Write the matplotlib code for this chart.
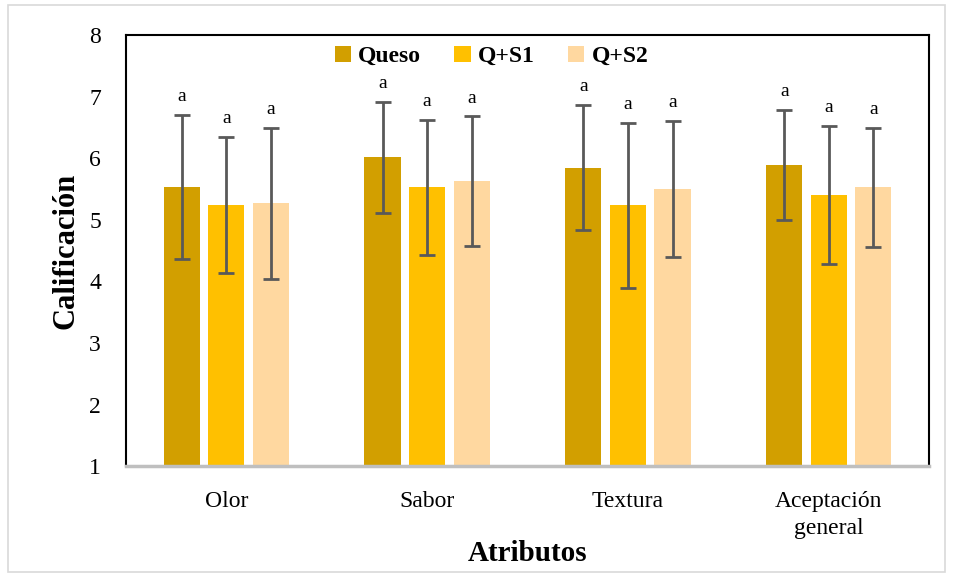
import matplotlib
matplotlib.use("Agg")
import matplotlib.pyplot as plt
import numpy as np
from matplotlib.patches import Rectangle

# Sensory scores (mean ± SD) per attribute
categories = ["Olor", "Sabor", "Textura", "Aceptación\ngeneral"]
series = ["Queso", "Q+S1", "Q+S2"]
means = {
    "Queso": [5.53, 6.02, 5.85, 5.89],
    "Q+S1": [5.24, 5.53, 5.24, 5.40],
    "Q+S2": [5.27, 5.63, 5.50, 5.53],
}
errors = {
    "Queso": [1.17, 0.90, 1.01, 0.89],
    "Q+S1": [1.10, 1.10, 1.34, 1.12],
    "Q+S2": [1.23, 1.05, 1.10, 0.97],
}
letters = {
    "Queso": ["a", "a", "a", "a"],
    "Q+S1": ["a", "a", "a", "a"],
    "Q+S2": ["a", "a", "a", "a"],
}
colors = {"Queso": "#D29F00", "Q+S1": "#FFC000", "Q+S2": "#FFD8A0"}

plt.rcParams["font.family"] = ["Liberation Serif", "DejaVu Serif"]

fig = plt.figure(figsize=(9.54, 5.77), dpi=100)
ax = fig.add_axes([0.132, 0.192, 0.842, 0.747])

x = np.arange(len(categories))
width = 0.18
offsets = [-0.222, 0.0, 0.222]

for s, off in zip(series, offsets):
    ax.bar(x + off, np.array(means[s]) - 1, width, bottom=1,
           color=colors[s], label=s, zorder=2)
    ax.errorbar(x + off, means[s], yerr=errors[s], fmt="none",
                ecolor="#595959", elinewidth=2, capsize=6, capthick=2, zorder=3)
    for xi, m, e, t in zip(x + off, means[s], errors[s], letters[s]):
        ax.text(xi, m + e + 0.3, t, ha="center", va="center", fontsize=14)

ax.set_xlim(-0.5, len(categories) - 0.5)
ax.set_ylim(1, 8)
ax.set_yticks(range(1, 9))
ax.set_xticks(x)
ax.set_xticklabels(categories, fontsize=17, linespacing=1.35)
ax.tick_params(axis="y", labelsize=17, length=0, pad=18)
ax.tick_params(axis="x", length=0, pad=18)

for side in ["left", "top", "right"]:
    ax.spines[side].set_color("black")
    ax.spines[side].set_linewidth(1.5)
ax.spines["bottom"].set_color("#BFBFBF")
ax.spines["bottom"].set_linewidth(2.5)

ax.set_ylabel("Calificación", fontsize=22, fontweight="bold", labelpad=6)
ax.set_xlabel("Atributos", fontsize=21, fontweight="bold", labelpad=1)

leg = ax.legend(loc="upper center", bbox_to_anchor=(0.455, 1.025), ncol=3,
                frameon=False, prop={"weight": "bold", "size": 17},
                handlelength=0.7, handleheight=0.7, handletextpad=0.3,
                columnspacing=1.4)

# light outer frame around the whole figure
fig.patches.append(Rectangle((8 / 954, 5 / 577), 937 / 954, 567 / 577,
                             transform=fig.transFigure, fill=False,
                             edgecolor="#D9D9D9", linewidth=1.2))

fig.savefig("out.png", dpi=100)
